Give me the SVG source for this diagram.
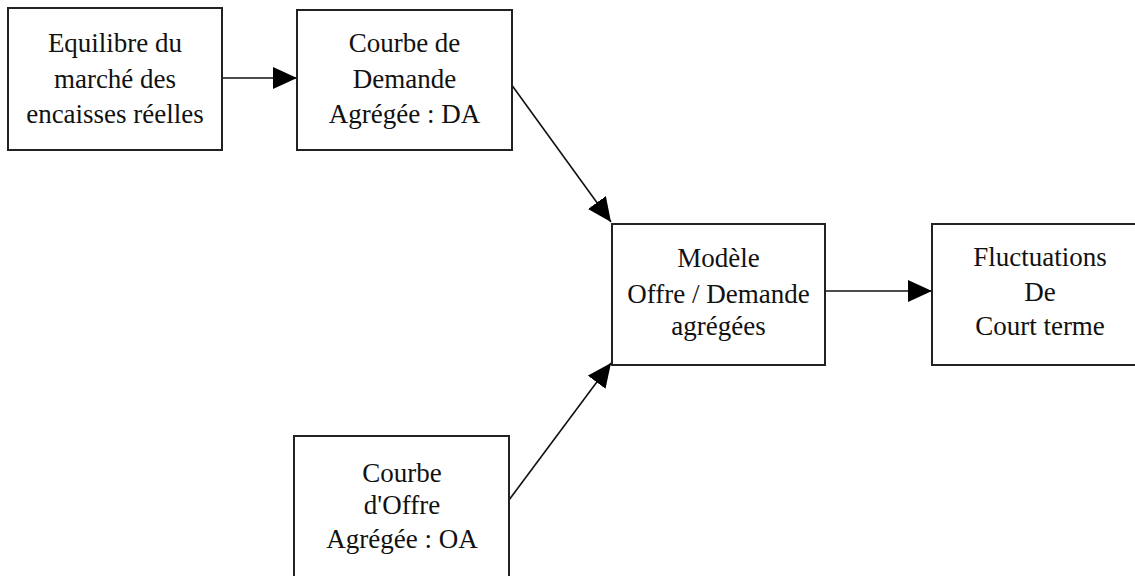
<svg xmlns="http://www.w3.org/2000/svg" width="1135" height="576" viewBox="0 0 1135 576">
  <style>
    .box { fill: #ffffff; stroke: #222222; stroke-width: 2; }
    .lbl { font-family: "Liberation Serif", "Times New Roman", serif; font-size: 27px; fill: #111111; text-anchor: middle; }
    .edge { stroke: #111111; stroke-width: 1.6; fill: none; marker-end: url(#arrow); }
  </style>
  <defs>
    <marker id="arrow" markerUnits="userSpaceOnUse" markerWidth="26" markerHeight="24" refX="24" refY="11" orient="auto">
      <path d="M0,0 L24,11 L0,22 Z" fill="#000000"/>
    </marker>
  </defs>
  <rect width="1135" height="576" fill="#ffffff"/>

  <g id="connectors">
    <line class="edge" x1="222" y1="78" x2="297" y2="78"/>
    <line class="edge" x1="511" y1="84" x2="611" y2="222"/>
    <line class="edge" x1="825" y1="291" x2="932" y2="291"/>
    <line class="edge" x1="509" y1="500" x2="611" y2="363"/>
  </g>

  <g id="node-equilibre">
    <rect class="box" x="8" y="8" width="214" height="142"/>
    <text class="lbl" x="115" y="52">Equilibre du</text>
    <text class="lbl" x="115" y="88">marché des</text>
    <text class="lbl" x="115" y="123">encaisses réelles</text>
  </g>

  <g id="node-da">
    <rect class="box" x="297" y="10" width="215" height="140"/>
    <text class="lbl" x="404.5" y="52">Courbe de</text>
    <text class="lbl" x="404.5" y="88">Demande</text>
    <text class="lbl" x="404.5" y="123">Agrégée : DA</text>
  </g>

  <g id="node-modele">
    <rect class="box" x="612" y="224" width="213" height="141"/>
    <text class="lbl" x="718.5" y="267">Modèle</text>
    <text class="lbl" x="718.5" y="303">Offre / Demande</text>
    <text class="lbl" x="718.5" y="335">agrégées</text>
  </g>

  <g id="node-fluctuations">
    <rect class="box" x="932" y="224" width="216" height="141"/>
    <text class="lbl" x="1040" y="266">Fluctuations</text>
    <text class="lbl" x="1040" y="301">De</text>
    <text class="lbl" x="1040" y="335">Court terme</text>
  </g>

  <g id="node-oa">
    <rect class="box" x="294" y="436" width="215" height="150"/>
    <text class="lbl" x="402" y="482">Courbe</text>
    <text class="lbl" x="402" y="514">d'Offre</text>
    <text class="lbl" x="402" y="548">Agrégée : OA</text>
  </g>
</svg>
